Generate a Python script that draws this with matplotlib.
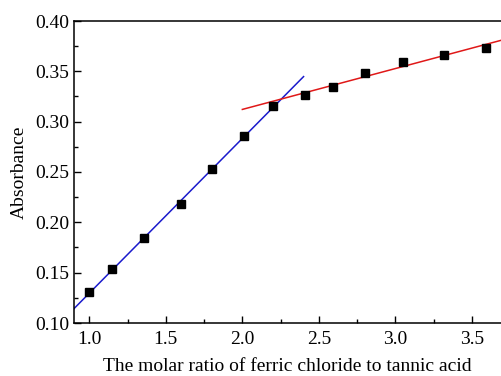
import numpy as np
import matplotlib
matplotlib.use("Agg")
import matplotlib.pyplot as plt
from matplotlib.ticker import MultipleLocator

ratio = [1.0, 1.15, 1.36, 1.6, 1.8, 2.01, 2.2, 2.41, 2.59, 2.8, 3.05, 3.32, 3.59]
absorb = [0.131, 0.154, 0.184, 0.218, 0.2525, 0.2856, 0.3155, 0.3264, 0.334, 0.348, 0.359, 0.366, 0.3735]

plt.rcParams['font.family'] = ['Liberation Serif', 'DejaVu Serif']

fig = plt.figure(figsize=(5.01, 3.76), dpi=100)
ax = fig.add_axes([74/501, 1-323/376, 1-74/501, (323-21)/376])

x = np.array(ratio); y = np.array(absorb)
b1 = np.polyfit(x[:7], y[:7], 1)
b2 = np.polyfit(x[7:], y[7:], 1)
xl1 = np.array([0.9, 2.4])
xl2 = np.array([2.0, 3.7])
ax.plot(xl1, np.polyval(b1, xl1), color='#1a1acc', lw=1.1)
ax.plot(xl2, np.polyval(b2, xl2), color='#e01818', lw=1.1)
ax.plot(x, y, 's', color='black', ms=6, zorder=3)

ax.set_xlim(0.9, 3.69)
ax.set_ylim(0.10, 0.40)
ax.xaxis.set_major_locator(MultipleLocator(0.5))
ax.xaxis.set_minor_locator(MultipleLocator(0.25))
ax.yaxis.set_major_locator(MultipleLocator(0.05))
ax.yaxis.set_minor_locator(MultipleLocator(0.025))
ax.xaxis.set_major_formatter(matplotlib.ticker.FormatStrFormatter('%.1f'))
ax.yaxis.set_major_formatter(matplotlib.ticker.FormatStrFormatter('%.2f'))
ax.tick_params(which='both', direction='in', labelsize=14, width=1)
ax.tick_params(which='major', length=5)
ax.tick_params(which='minor', length=3)
ax.tick_params(axis='x', pad=6)
ax.tick_params(top=False, right=False, which='both')
ax.spines['right'].set_visible(False)
for s in ['left', 'bottom', 'top']:
    ax.spines[s].set_linewidth(1.1)
ax.set_xlabel('The molar ratio of ferric chloride to tannic acid', fontsize=14, labelpad=7)
ax.set_ylabel('Absorbance', fontsize=14, labelpad=5)

fig.savefig('out.png', dpi=100)
